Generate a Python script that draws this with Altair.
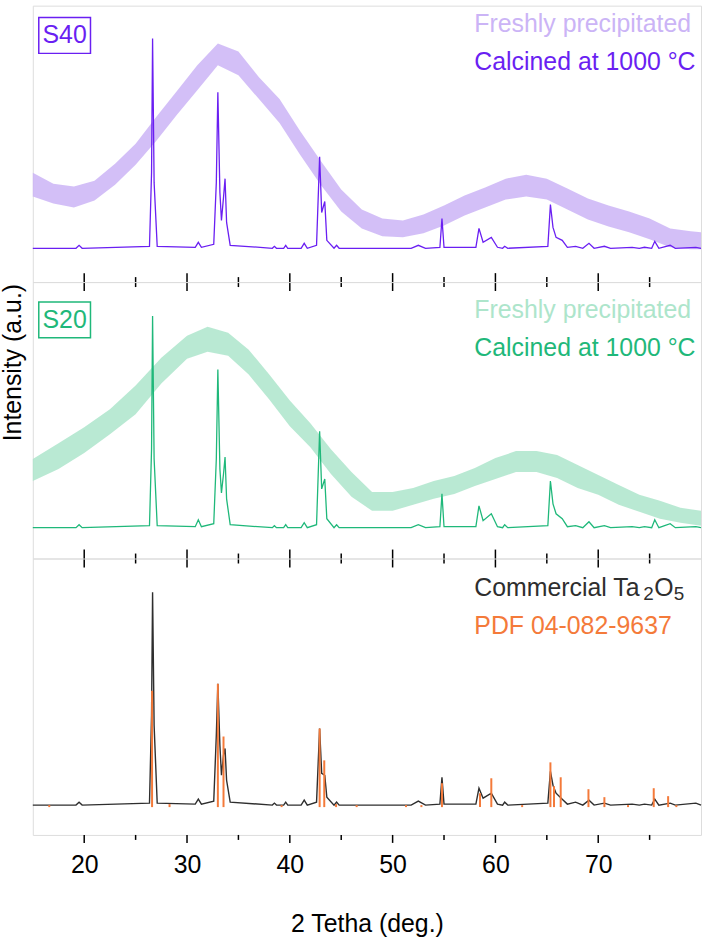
import altair as alt
import pandas as pd

FONT = "Liberation Sans"

# ---------------- data (2-theta in degrees, intensity in a.u.) ----------------
CAL_X = [15.0, 19.2, 19.5, 19.8, 26.35, 26.55, 26.65, 26.8, 27.1, 30.8, 31.1, 31.4,
         32.6, 32.85, 33.0, 33.2, 33.35, 33.55, 33.7, 33.85, 34.2, 38.3, 38.5, 38.7,
         39.4, 39.6, 39.8, 41.1, 41.4, 41.7, 42.6, 42.9, 43.1, 43.4, 43.6, 44.3, 44.55,
         44.8, 51.8, 52.5, 53.2, 54.6, 54.8, 55.0, 58.1, 58.4, 58.8, 59.6, 60.2, 60.7,
         60.9, 61.2, 65.1, 65.35, 65.6, 65.9, 66.5, 67.0, 67.8, 68.5, 69.1, 69.6, 70.6,
         71.2, 73.3, 74.0, 74.5, 75.2, 75.5, 75.9, 77.0, 77.5, 79.5, 80.0]
S40_CAL = [34, 34, 37, 34, 36, 110, 245, 100, 36, 35, 40, 35,
           38, 100, 191, 90, 62, 85, 104, 60, 37, 34, 36, 34,
           34, 37, 34, 34, 39, 34, 37, 126, 70, 81, 42, 34, 37,
           34, 34, 37, 34, 35, 64, 35, 35, 54, 40, 45, 35, 34,
           36, 34, 36, 78, 55, 45, 42, 35, 36, 34, 39, 34, 36,
           34, 35, 34, 35, 34, 41, 34, 37, 34, 35, 34]
S20_CAL = [31, 31, 34, 31, 33, 110, 244, 100, 33, 32, 39, 32,
           35, 100, 190, 90, 66, 85, 102, 60, 34, 31, 33, 31,
           31, 34, 31, 31, 36, 31, 34, 128, 70, 80, 40, 31, 34,
           31, 31, 34, 31, 32, 65, 32, 32, 53, 38, 45, 32, 31,
           34, 31, 33, 78, 55, 45, 40, 32, 33, 31, 37, 31, 33,
           31, 32, 31, 32, 31, 39, 31, 35, 31, 32, 31]
COMMERCIAL = [30, 30, 33, 30, 32, 120, 244, 110, 32, 31, 36, 31,
              34, 100, 152, 90, 60, 80, 87, 55, 33, 30, 32, 30,
              30, 33, 30, 30, 35, 30, 33, 107, 62, 60, 38, 30, 33,
              30, 30, 34, 30, 31, 58, 31, 31, 47, 37, 42, 31, 30,
              33, 30, 32, 64, 50, 42, 36, 31, 33, 30, 35, 30, 32,
              30, 31, 30, 31, 30, 36, 30, 32, 30, 32, 30]

S40_FRESH_X = [15, 17, 19, 21, 23, 25, 27, 29, 31, 33, 35, 37, 39, 41, 43, 45, 47,
               49, 51, 53, 55, 57, 59, 61, 63, 65, 67, 69, 71, 73, 75, 77, 79, 80]
S40_FRESH_LO = [86, 79, 75, 82, 98, 118, 142, 168, 193, 218, 208, 184, 160, 128, 98, 71, 54,
                46, 45, 49, 57, 67, 75, 83, 86, 83, 73, 63, 56, 50, 43, 35, 33, 33]
S40_FRESH_HI = [110, 99, 96, 102, 119, 139, 166, 192, 218, 240, 232, 206, 184, 152, 122, 93, 73,
                64, 62, 68, 77, 87, 95, 104, 108, 104, 94, 84, 77, 71, 64, 54, 51, 50]

S20_FRESH_X = [15, 17.5, 20, 22.5, 25, 27.5, 30, 32, 34, 36, 38, 40, 42, 44, 46, 48, 50,
               52, 54, 56, 58, 60, 62, 64, 66, 68, 70, 72, 74, 76, 78, 80]
S20_FRESH_LO = [78, 90, 106, 125, 145, 176, 201, 208, 204, 185, 160, 133, 112, 85, 62, 48, 48,
                54, 60, 65, 73, 80, 87, 87, 81, 71, 64, 54, 47, 40, 36, 33]
S20_FRESH_HI = [100, 116, 132, 150, 174, 202, 224, 233, 227, 210, 185, 159, 136, 110, 87, 67, 67,
                71, 78, 83, 91, 101, 108, 108, 104, 94, 84, 74, 64, 58, 51, 48]

PDF_X = [16.6, 26.6, 28.3, 33.0, 33.55, 39.2, 42.9, 43.35, 44.5, 46.5, 51.3, 52.8, 54.8,
         58.5, 59.6, 62.6, 65.35, 65.7, 66.35, 69.05, 70.6, 72.9, 75.4, 76.8, 77.6]
PDF_I = [30, 145, 31, 152, 99, 30, 107, 75, 31, 30, 30, 30, 52,
         42, 57, 30, 73, 49, 58, 46, 38, 30, 47, 39, 30]
PDF_BASE = 28

MAJOR_TICKS = [20, 30, 40, 50, 60, 70]
MINOR_TICKS = [25, 35, 45, 55, 65, 75]

# ---------------- styling ----------------
W, H = 672, 278
PURPLE, PURPLE_L = "#6a1ff2", "#cbb4f6"
GREEN, GREEN_L = "#1fb87a", "#ade5cb"
DARK, ORANGE = "#2e2e2e", "#f47a3a"
FS = 25

xscale = alt.Scale(domain=[15, 80], nice=False, zero=False)
yscale = alt.Scale(domain=[0, H], nice=False, zero=False)


def one(val):
    return pd.DataFrame({"t": [val]})


def text(val, x, y, color, size=FS, align="left"):
    return alt.Chart(one(val)).mark_text(
        font=FONT, fontSize=size, color=color, align=align, baseline="alphabetic"
    ).encode(x=alt.value(x), y=alt.value(y), text="t:N")


def ticks(xax, bottom_only=False):
    if bottom_only:
        maj = (H, H + 8)
        mnr = (H, H + 5)
    else:
        maj = (H - 9, H + 9)
        mnr = (H - 5, H + 5)
    a = alt.Chart(pd.DataFrame({"x": MAJOR_TICKS})).mark_rule(color="black", strokeWidth=1.5).encode(
        x=alt.X("x:Q", scale=xscale, axis=xax), y=alt.value(maj[0]), y2=alt.value(maj[1]))
    b = alt.Chart(pd.DataFrame({"x": MINOR_TICKS})).mark_rule(color="black", strokeWidth=1.5).encode(
        x=alt.X("x:Q", scale=xscale, axis=xax), y=alt.value(mnr[0]), y2=alt.value(mnr[1]))
    return [a, b]


def band(xs, lo, hi, color, xax):
    df = pd.DataFrame({"x": xs, "lo": lo, "hi": hi})
    return alt.Chart(df).mark_area(color=color, opacity=0.85).encode(
        x=alt.X("x:Q", scale=xscale, axis=xax),
        y=alt.Y("lo:Q", scale=yscale, axis=None),
        y2="hi:Q")


def trace(xs, ys, color, xax, sw=1.3):
    df = pd.DataFrame({"x": xs, "y": ys})
    return alt.Chart(df).mark_line(color=color, strokeWidth=sw).encode(
        x=alt.X("x:Q", scale=xscale, axis=xax),
        y=alt.Y("y:Q", scale=yscale, axis=None))


def box(label, color, y0, y1, base):
    r = alt.Chart(one(0)).mark_rect(filled=False, stroke=color, strokeWidth=1.5).encode(
        x=alt.value(6), x2=alt.value(58), y=alt.value(y0), y2=alt.value(y1))
    return [r, text(label, 32, base, color, align="center")]


# ---------------- panel 1 : S40 ----------------
p1 = alt.layer(
    band(S40_FRESH_X, S40_FRESH_LO, S40_FRESH_HI, PURPLE_L, None),
    trace(CAL_X, S40_CAL, PURPLE, None),
    *ticks(None),
    *box("S40", PURPLE, 12, 48, 38),
    text("Freshly precipitated", 444, 27, PURPLE_L),
    text("Calcined at 1000 °C", 444, 65, PURPLE),
).properties(width=W, height=H)

# ---------------- panel 2 : S20 ----------------
ytitle = alt.Chart(one("Intensity (a.u.)")).mark_text(
    font=FONT, fontSize=25, color="black", angle=270, align="center", baseline="middle"
).encode(x=alt.value(-20), y=alt.value(81), text="t:N")

p2 = alt.layer(
    band(S20_FRESH_X, S20_FRESH_LO, S20_FRESH_HI, GREEN_L, None),
    trace(CAL_X, S20_CAL, GREEN, None),
    *ticks(None),
    *box("S20", GREEN, 20, 56, 46),
    text("Freshly precipitated", 444, 36, GREEN_L),
    text("Calcined at 1000 °C", 444, 74, GREEN),
    ytitle,
).properties(width=W, height=H)

# ---------------- panel 3 : commercial + reference ----------------
AX3 = alt.Axis(values=MAJOR_TICKS, format="d", ticks=False, tickSize=0, domain=False, grid=False,
               labelFont=FONT, labelFontSize=FS, labelColor="black", labelPadding=18,
               title="2 Tetha (deg.)", titleFont=FONT, titleFontSize=25, titleFontWeight="normal",
               titleColor="black", titlePadding=34)

pdf_df = pd.DataFrame({"x": PDF_X, "top": PDF_I, "base": [PDF_BASE] * len(PDF_X)})
pdf = alt.Chart(pdf_df).mark_rule(color=ORANGE, strokeWidth=2).encode(
    x=alt.X("x:Q", scale=xscale, axis=AX3),
    y=alt.Y("base:Q", scale=yscale, axis=None),
    y2="top:Q")

p3 = alt.layer(
    trace(CAL_X, COMMERCIAL, DARK, AX3, sw=1.4),
    pdf,
    *ticks(AX3, bottom_only=True),
    text("Commercial Ta", 444, 38, DARK),
    text("2", 614, 42, DARK, size=19),
    text("O", 625, 38, DARK),
    text("5", 644.5, 42, DARK, size=19),
    text("PDF 04-082-9637", 444, 76, ORANGE),
).properties(width=W, height=H)

chart = alt.vconcat(p1, p2, p3, spacing=0, bounds="flush").properties(
    padding={"left": 0, "top": 2, "right": 0, "bottom": 5}
).configure_view(stroke="black", strokeWidth=1.5).configure(background="white")

chart.save("out.html", embed_options={"renderer": "svg", "actions": False})
